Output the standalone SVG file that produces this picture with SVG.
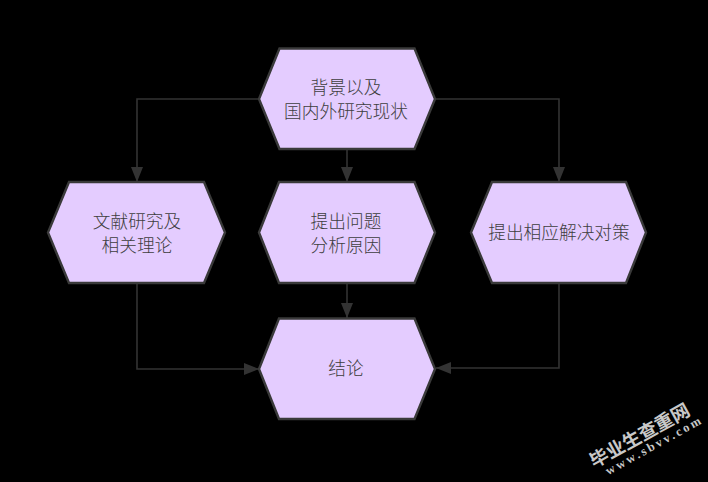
<svg xmlns="http://www.w3.org/2000/svg" width="708" height="482" viewBox="0 0 708 482">
<style>
.n{fill:#e4ccff;stroke:#3a3a3a;stroke-width:2.4}
.t{font-family:"Liberation Sans","Noto Sans CJK SC",sans-serif;font-size:17.700px;font-weight:300;fill:#3e3e3e;text-anchor:middle}
.c{fill:none;stroke:#333;stroke-width:1.6}
.w{font-family:"Noto Sans CJK SC",sans-serif;font-weight:700;font-size:18.500px;fill:#c8c8c8;text-anchor:middle}
.u{font-family:"Liberation Serif",serif;font-weight:700;font-size:12.500px;letter-spacing:2.600px;fill:#c8c8c8;text-anchor:middle}
</style>
<defs><marker id="a" markerUnits="userSpaceOnUse" markerWidth="16" markerHeight="12" refX="15" refY="6" orient="auto"><path d="M0 0L15 6L0 12Z" fill="#333"/></marker></defs>
<rect width="708" height="482" fill="#000"/>
<g id="connectors">
<path class="c" marker-end="url(#a)" d="M259 99H137V182"/>
<path class="c" marker-end="url(#a)" d="M347 150V182"/>
<path class="c" marker-end="url(#a)" d="M436 99H559V182"/>
<path class="c" marker-end="url(#a)" d="M137 284V369H259"/>
<path class="c" marker-end="url(#a)" d="M347 284V318"/>
<path class="c" marker-end="url(#a)" d="M559 284V368H436"/>
</g>
<g id="n1"><polygon class="n" points="279.500,48.500 414.500,48.500 435,99 414.500,149 279.500,149 259,99"/><text class="t" x="346" y="94">背景以及</text><text class="t" x="346" y="118">国内外研究现状</text></g>
<g id="n2"><polygon class="n" points="69,182 204,182 225,232.500 204,283 69,283 48,232.500"/><text class="t" x="137" y="228">文献研究及</text><text class="t" x="137" y="252">相关理论</text></g>
<g id="n3"><polygon class="n" points="279,182 414.500,182 435,232.500 414.500,283 279,283 259,232.500"/><text class="t" x="346" y="228">提出问题</text><text class="t" x="346" y="252">分析原因</text></g>
<g id="n4"><polygon class="n" points="492,182 626,182 646,232.500 626,283 492,283 471,232.500"/><text class="t" x="559" y="239">提出相应解决对策</text></g>
<g id="n5"><polygon class="n" points="279,318.500 414.500,318.500 435,369 414.500,419 279,419 259,369"/><text class="t" x="346" y="375">结论</text></g>
<g transform="rotate(-29 640 436)"><text class="w" x="640" y="442">毕业生查重网</text><text class="u" x="648" y="455">www.sbvv.com</text></g>
</svg>
